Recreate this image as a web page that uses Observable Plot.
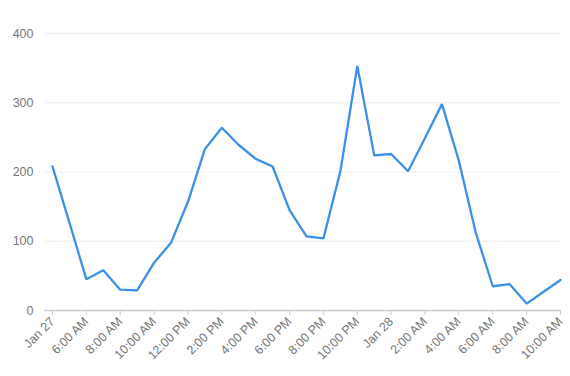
<!DOCTYPE html>
<html>
<head>
<meta charset="utf-8">
<script src="https://cdn.jsdelivr.net/npm/d3@7"></script>
<script src="https://cdn.jsdelivr.net/npm/@observablehq/plot@0.6"></script>
<style>
  html, body { margin: 0; padding: 0; background: #fff; }
  #chart { width: 570px; height: 376px; }
  svg { font-family: "Liberation Sans", Arial, Helvetica, sans-serif; }
</style>
</head>
<body>
<div id="chart"></div>
<script>
// Hourly readings from Jan 27 04:00 to Jan 28 10:00
const startTime = "2024-01-27T04:00:00Z";
const values = [208, 127, 45, 58, 30, 29, 69, 98, 157, 233, 264, 239, 219, 208, 145, 107, 104, 201, 353, 224, 226, 201, 249, 298, 216, 112, 35, 38, 10, 27, 44];
const tickLabels = ["Jan 27", "6:00 AM", "8:00 AM", "10:00 AM", "12:00 PM", "2:00 PM", "4:00 PM", "6:00 PM", "8:00 PM", "10:00 PM", "Jan 28", "2:00 AM", "4:00 AM", "6:00 AM", "8:00 AM", "10:00 AM"];
const yTicks = [0, 100, 200, 300, 400];

const t0 = new Date(startTime);
const hour = 3600 * 1000;
const data = values.map((v, i) => ({ time: new Date(+t0 + i * hour), value: v }));
const tickTimes = tickLabels.map((_, i) => new Date(+t0 + i * 2 * hour));
const labelOf = new Map(tickTimes.map((t, i) => [+t, tickLabels[i]]));

const chart = Plot.plot({
  width: 570,
  height: 376,
  marginLeft: 44,
  marginRight: 10,
  marginTop: 33,
  marginBottom: 66,
  style: { fontSize: "12px", color: "#777", background: "#fff" },
  x: {
    type: "utc",
    domain: [data[0].time, data[data.length - 1].time],
    insetLeft: 8
  },
  y: { domain: [0, 400] },
  marks: [
    Plot.ruleY(yTicks.slice(1), { stroke: "#eeeeee", strokeWidth: 1 }),
    Plot.ruleY([0], { stroke: "#cccccc", strokeWidth: 1.5 }),
    Plot.axisY({
      ticks: yTicks,
      tickSize: 0,
      tickPadding: 11,
      fill: "#777",
      fontSize: 12.5,
      label: null
    }),
    Plot.axisX({
      ticks: tickTimes,
      tickFormat: (d) => labelOf.get(+d),
      tickSize: 5,
      stroke: "#cccccc",
      tickRotate: -45,
      tickPadding: 4,
      fill: "#777",
      fontSize: 12.5,
      label: null
    }),
    Plot.lineY(data, {
      x: "time",
      y: "value",
      stroke: "#3c90e8",
      strokeWidth: 2.3,
      strokeLinejoin: "miter"
    })
  ]
});
document.getElementById("chart").appendChild(chart);
</script>
</body>
</html>
